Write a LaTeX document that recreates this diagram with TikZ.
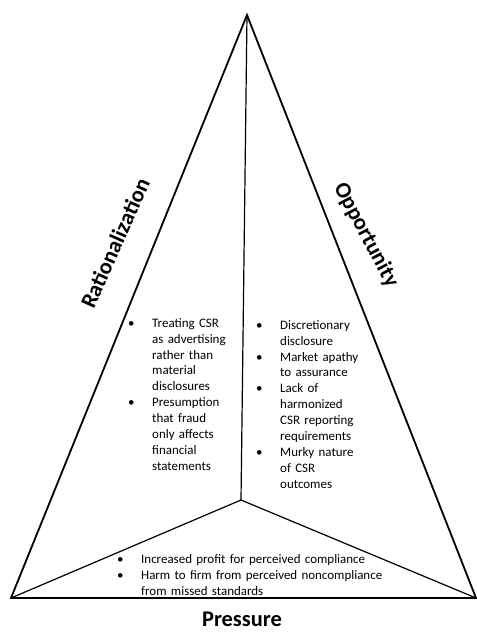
\documentclass[tikz,border=0pt]{standalone}
\usepackage{fontspec}
\setmainfont{Carlito}
\usepackage{tikz}
\usetikzlibrary{calc}

\newcommand{\bitem}{\par\noindent\hangindent=24bp\hangafter=1\makebox[24bp][l]{\textbullet}}

\begin{document}
\begin{tikzpicture}[x=1bp,y=-1bp,
			outer/.style={line width=1.8bp,line join=miter},
			spoke/.style={line width=1.2bp},
			side/.style={font=\fontsize{22.5}{26}\selectfont\bfseries,inner sep=0pt},
			blist/.style={font=\fontsize{13}{16}\selectfont,inner sep=0pt,anchor=north west,align=left},
			]
			\useasboundingbox (0,0) rectangle (477,632);
			% ecken des dreiecks
			\coordinate (A) at (247,15);
			\coordinate (L) at (11,598);
			\coordinate (R) at (476,598);
			\coordinate (M) at (241,500);
			
			% aussenkanten und speichen
			\draw[outer] (A)--(L)--(R)--cycle;
			\draw[spoke] (A)--(M);
			\draw[spoke] (L)--(M)--(R);
			
			% seitenbeschriftung
			\node[side,rotate=66] (rat) at (115,243) {Rationalization};
			\node[side,rotate=-62] (opp) at (366,235) {Opportunity};
			\node[side] (pre) at (242,619.5) {Pressure};
			
			% stichpunkte links
			\node[blist,text width=120bp] (ratlist) at (128,311) {%
				\bitem Treating CSR\newline as advertising\newline rather than\newline material\newline disclosures
				\bitem Presumption\newline that fraud\newline only affects\newline financial\newline statements\par};
			
			% stichpunkte rechts
			\node[blist,text width=120bp] (opplist) at (256,313) {%
				\bitem Discretionary\newline disclosure
				\bitem Market apathy\newline to assurance
				\bitem Lack of\newline harmonized\newline CSR reporting\newline requirements
				\bitem Murky nature\newline of CSR\newline outcomes\par};
			
			% stichpunkte unten
			\node[blist,text width=280bp] (prelist) at (117,547) {%
				\bitem Increased profit for perceived compliance
				\bitem Harm to firm from perceived noncompliance\newline from missed standards\par};
		\end{tikzpicture}
\end{document}
